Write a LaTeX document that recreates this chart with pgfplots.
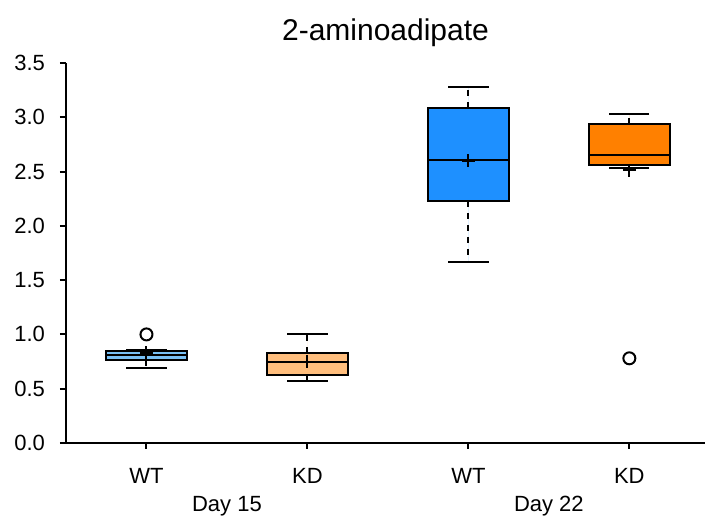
\documentclass[border=0pt]{standalone}
\usepackage{pgfplots}
\pgfplotsset{compat=1.18}
\usepgfplotslibrary{statistics}
\usepackage{fontspec}
\setmainfont{Liberation Sans}
\definecolor{lblue}{RGB}{120,192,245}
\definecolor{lorange}{RGB}{255,190,125}
\definecolor{dblue}{RGB}{30,144,255}
\definecolor{dorange}{RGB}{255,128,0}
\begin{document}
\begin{tikzpicture}
\begin{axis}[
  scale only axis, width=319.5pt, height=190pt,
  xmin=0.5, xmax=4.47, ymin=0, ymax=3.5,
  axis x line*=bottom, axis y line*=left,
  xtick={1,2,3,4}, xticklabels={WT,KD,WT,KD},
  ytick={0,0.5,1,1.5,2,2.5,3,3.5},
  yticklabel style={/pgf/number format/fixed,/pgf/number format/fixed zerofill,/pgf/number format/precision=1, xshift=-4pt},
  /pgf/number format/assume math mode=true,
  tick align=outside, major tick length=3pt,
  axis line style={line width=1pt},
  tick style={line width=1pt, black},
  ticklabel style={font=\fontsize{11}{13}\selectfont},
  xticklabel style={yshift=-6pt},
  title={2-aminoadipate},
  title style={font=\fontsize{15}{17}\selectfont, yshift=-1.5pt},
  clip=false,
  boxplot/draw direction=y,
  boxplot/box extend=0.5,
  boxplot/whisker extend=0.25,
  boxplot/draw/lower whisker/.code={%
    \draw[dashed, line width=1pt] (boxplot box cs:\pgfplotsboxplotvalue{lower quartile},0.5) -- (boxplot box cs:\pgfplotsboxplotvalue{lower whisker},0.5);
    \draw[line width=1pt] (boxplot whisker cs:\pgfplotsboxplotvalue{lower whisker},0) -- (boxplot whisker cs:\pgfplotsboxplotvalue{lower whisker},1);
  },
  boxplot/draw/upper whisker/.code={%
    \draw[dashed, line width=1pt] (boxplot box cs:\pgfplotsboxplotvalue{upper quartile},0.5) -- (boxplot box cs:\pgfplotsboxplotvalue{upper whisker},0.5);
    \draw[line width=1pt] (boxplot whisker cs:\pgfplotsboxplotvalue{upper whisker},0) -- (boxplot whisker cs:\pgfplotsboxplotvalue{upper whisker},1);
  },
  boxplot/draw/average/.code={},
  boxplot/every box/.style={line width=1pt, draw=black},
  boxplot/every median/.style={line width=1pt, black},
]
\addplot+[boxplot prepared={draw position=1, lower whisker=0.69, lower quartile=0.76, median=0.81, upper quartile=0.845, upper whisker=0.855},
  fill=lblue, draw=black, solid, mark=o, mark size=3pt, mark options={black, line width=1pt, fill=none}]
  table[row sep=\\, y index=0] {data\\ 1.0\\};
\addplot+[boxplot prepared={draw position=2, lower whisker=0.575, lower quartile=0.63, median=0.745, upper quartile=0.83, upper whisker=1.0},
  fill=lorange, draw=black, solid, mark=o, mark size=3pt, mark options={black, line width=1pt, fill=none}]
  coordinates {};
\addplot+[boxplot prepared={draw position=3, lower whisker=1.67, lower quartile=2.23, median=2.605, upper quartile=3.09, upper whisker=3.28},
  fill=dblue, draw=black, solid, mark=o, mark size=3pt, mark options={black, line width=1pt, fill=none}]
  coordinates {};
\addplot+[boxplot prepared={draw position=4, lower whisker=2.535, lower quartile=2.557, median=2.65, upper quartile=2.94, upper whisker=3.03},
  fill=dorange, draw=black, solid, mark=o, mark size=3pt, mark options={black, line width=1pt, fill=none}]
  table[row sep=\\, y index=0] {data\\ 0.78\\};
% means
\addplot[only marks, mark=+, mark size=3.3pt, black, mark options={line width=1pt}]
  coordinates {(1,0.83) (2,0.75) (3,2.60) (4,2.51)};
\node[font=\fontsize{11}{13}\selectfont] at (axis cs:1.5,0) [yshift=-31.5pt] {Day 15};
\node[font=\fontsize{11}{13}\selectfont] at (axis cs:3.5,0) [yshift=-31.5pt] {Day 22};
\coordinate (bl) at (rel axis cs:0,0);
\coordinate (tr) at (rel axis cs:1,1);
\end{axis}
\pgfresetboundingbox
\path ([xshift=-33pt,yshift=-39pt]bl) rectangle ([yshift=31.5pt]tr);
\end{tikzpicture}
\end{document}
